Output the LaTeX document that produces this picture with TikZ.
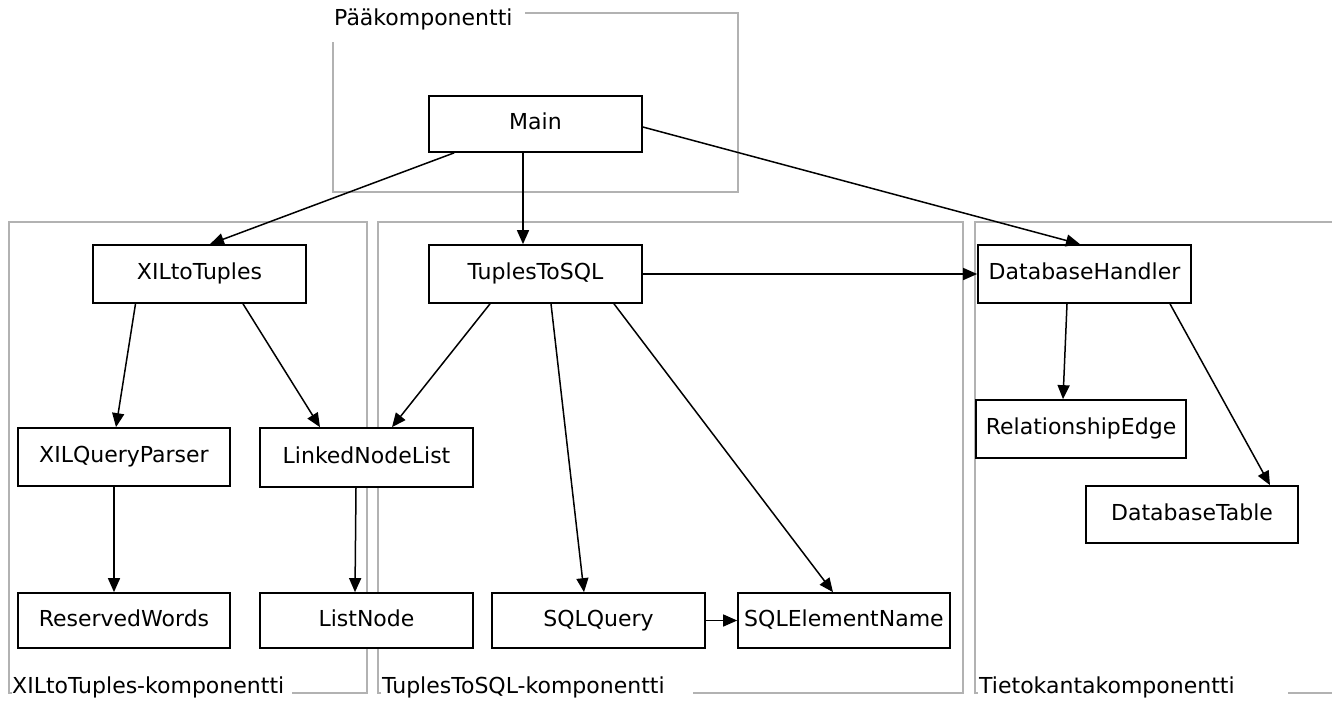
\documentclass[tikz,border=0pt]{standalone}
\usepackage{fontspec}
\setmainfont{DejaVu Sans}
\usetikzlibrary{arrows.meta,calc}
\definecolor{framegray}{RGB}{178,178,178}
\begin{document}
\begin{tikzpicture}[x=1pt,y=-1pt,
  txt/.style={font=\fontsize{22pt}{26pt}\selectfont},
  classbox/.style={txt,draw=black,fill=white,line width=1.7pt,inner sep=0pt,
    minimum width=213pt,minimum height=57pt,text height=15.8pt,text depth=4.5pt},
  frameline/.style={draw=framegray,line width=1.4pt},
  framelabel/.style={txt,inner sep=0pt,anchor=base west},
  dep/.style={draw=black,line width=1.5pt,-{Triangle[length=14pt,width=12pt]}}]
\useasboundingbox (0,0) rectangle (1332,702);

% component frames
\draw[frameline] (525,13) -- (738,13) -- (738,192) -- (333,192) -- (333,42);
\node[framelabel] (lblmain) at (334,25) {Pääkomponentti};

\draw[frameline] (292,693) -- (367,693) -- (367,222) -- (9,222) -- (9,693) -- (12,693);
\node[framelabel] (lblxil) at (12,693) {XILtoTuples-komponentti};

\draw[frameline] (693,693) -- (963,693) -- (963,222) -- (378,222) -- (378,693) -- (381,693);
\node[framelabel] (lbltts) at (382,693) {TuplesToSQL-komponentti};

\draw[frameline] (1332,222) -- (975,222) -- (975,693) -- (978,693);
\draw[frameline] (1288,693) -- (1332,693);
\node[framelabel] (lbldb) at (979,693) {Tietokantakomponentti};

% classes
\node[classbox,minimum height=56pt] (main) at (535.5,124) {Main};
\node[classbox,minimum height=58pt] (xil) at (199.5,274) {XILtoTuples};
\node[classbox,minimum height=58pt] (tts) at (535.5,274) {TuplesToSQL};
\node[classbox,minimum height=58pt] (dbh) at (1084.5,274) {DatabaseHandler};
\node[classbox,minimum width=212pt,minimum height=58pt] (xqp) at (124,457) {XILQueryParser};
\node[classbox,minimum height=59pt] (lnl) at (366.5,457.5) {LinkedNodeList};
\node[classbox,minimum width=212pt,minimum height=55pt] (rw) at (124,620.5) {ReservedWords};
\node[classbox,minimum height=55pt] (ln) at (366.5,620.5) {ListNode};
\node[classbox,minimum height=55pt] (sq) at (598.5,620.5) {SQLQuery};
\node[classbox,minimum width=212pt,minimum height=55pt] (sen) at (844,620.5) {SQLElementName};
\node[classbox,minimum width=210pt,minimum height=58pt] (re) at (1081,429) {RelationshipEdge};
\node[classbox,minimum width=212pt,minimum height=57pt] (dt) at (1192,514.5) {DatabaseTable};

% dependencies
\draw[dep] ($(main.south west)+(26,0)$) -- ($(xil.north)+(10.5,0)$);
\draw[dep] ($(main.south)+(-12.5,0)$) -- ($(tts.north)+(-12.5,0)$);
\draw[dep] ($(main.east)+(0,3)$) -- ($(dbh.north)+(-4.5,0)$);
\draw[dep] (tts.east) -- (dbh.west);

\draw[dep] ($(xil.south)+(-64,0)$) -- ($(xqp.north)+(-8,0)$);
\draw[dep] ($(xil.south)+(43.5,0)$) -- ($(lnl.north)+(-46.5,0)$);
\draw[dep] ($(tts.south)+(-45.5,0)$) -- ($(lnl.north)+(25.5,0)$);
\draw[dep] ($(tts.south)+(15.5,0)$) -- ($(sq.north)+(-14.5,0)$);
\draw[dep] ($(tts.south)+(78.5,0)$) -- ($(sen.north)+(-11,0)$);
\draw[dep] (sq.east) -- (sen.west);

\draw[dep] ($(xqp.south)+(-10,0)$) -- ($(rw.north)+(-10,0)$);
\draw[dep] ($(lnl.south)+(-10.5,0)$) -- ($(ln.north)+(-11.5,0)$);

\draw[dep] ($(dbh.south)+(-17.5,0)$) -- ($(re.north)+(-18,0)$);
\draw[dep] ($(dbh.south)+(85.5,0)$) -- ($(dt.north)+(78,0)$);
\end{tikzpicture}
\end{document}
